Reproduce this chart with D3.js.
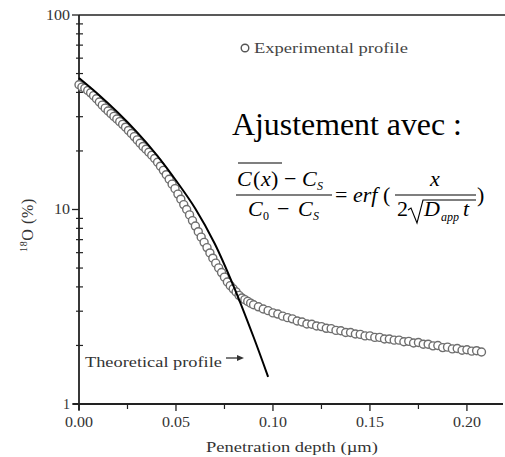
<!DOCTYPE html>
<html><head><meta charset="utf-8">
<script src="https://cdn.jsdelivr.net/npm/d3@7/dist/d3.min.js"></script>
<style>html,body{margin:0;padding:0;background:#fff;}svg{display:block;}</style>
</head><body>
<svg id="c" width="505" height="457"></svg>
<script>
// ---- data ----
const expDepth = [0.0000,0.0015,0.0030,0.0045,0.0060,0.0075,0.0090,0.0105,0.0120,0.0135,0.0150,0.0165,0.0180,0.0195,0.0210,0.0225,0.0240,0.0255,0.0270,0.0285,0.0300,0.0315,0.0330,0.0345,0.0360,0.0375,0.0390,0.0405,0.0420,0.0435,0.0450,0.0465,0.0480,0.0495,0.0510,0.0525,0.0540,0.0555,0.0570,0.0585,0.0600,0.0615,0.0630,0.0645,0.0660,0.0675,0.0690,0.0705,0.0720,0.0735,0.0750,0.0765,0.0780,0.0795,0.0810,0.0825,0.0840,0.0855,0.0870,0.0885,0.0900,
 0.0925,0.0950,0.0975,0.1000,0.1025,0.1050,0.1075,0.1100,0.1125,0.1150,0.1175,0.1200,0.1225,0.1250,0.1275,0.1300,0.1325,0.1350,0.1375,0.1400,0.1425,0.1450,0.1475,0.1500,0.1525,0.1550,0.1575,0.1600,0.1625,0.1650,0.1675,0.1700,0.1725,0.1750,0.1775,0.1800,0.1825,0.1850,0.1875,0.1900,0.1925,0.1950,0.1975,0.2000,0.2025,0.2050,0.2075];
const expO18 = [43.8,42.6,42.0,40.9,39.8,38.5,37.1,35.7,34.4,33.2,32.1,31.1,30.1,29.2,28.3,27.4,26.5,25.5,24.6,23.7,22.8,21.9,21.1,20.4,19.7,19.0,18.3,17.5,16.7,15.9,15.1,14.3,13.5,12.8,12.0,11.3,10.6,10.0,9.38,8.77,8.22,7.69,7.21,6.78,6.37,5.98,5.62,5.30,5.01,4.74,4.49,4.24,4.06,3.91,3.77,3.62,3.51,3.44,3.37,3.30,3.24,
 3.16,3.08,3.02,2.94,2.90,2.83,2.78,2.74,2.67,2.64,2.58,2.57,2.52,2.50,2.45,2.44,2.39,2.38,2.33,2.33,2.29,2.28,2.24,2.24,2.20,2.20,2.16,2.16,2.13,2.13,2.09,2.10,2.06,2.07,2.03,2.03,1.99,2.00,1.95,1.96,1.92,1.93,1.89,1.90,1.87,1.88,1.85];
const theoDepth = [0.000,0.010,0.020,0.030,0.040,0.050,0.060,0.070,0.080,0.090,0.0975];
const theoO18   = [47.4,39.0,31.5,24.9,19.1,14.1,10.1,6.67,3.97,2.21,1.38];
const xTicks = [0.00,0.05,0.10,0.15,0.20];
const xTickLabels = ["0.00","0.05","0.10","0.15","0.20"];
const xMinor = [0.025,0.075,0.125,0.175];
const yTicks = [1,10,100];
const yTickLabels = ["1","10","100"];
const yMinor = [2,3,4,5,6,7,8,9,20,30,40,50,60,70,80,90];

const svg = d3.select("#c");
const x = d3.scaleLinear().domain([0,0.2186]).range([79,503]);
const y = d3.scaleLog().domain([1,100]).range([404,15]);
const serif = "'Liberation Serif','Times New Roman',serif";
const axCol = "#222", txtCol = "#333";

// horizontally stretched text (the scanned plot lettering is wide)
function wide(parent, tx, ty, txt, size, targetW, anchor, fill){
  const g = parent.append("g");
  const t = g.append("text").attr("font-family",serif).attr("font-size",size).attr("fill",fill||txtCol).text(txt);
  const w = t.node().getComputedTextLength();
  const sx = targetW / w;
  let x0 = tx;
  if(anchor==="middle") x0 = tx - targetW/2;
  if(anchor==="end") x0 = tx - targetW;
  g.attr("transform",`translate(${x0},${ty}) scale(${sx},1)`);
  return t;
}

// frame / axes lines
svg.append("line").attr("x1",x(0)).attr("x2",505).attr("y1",y(100)).attr("y2",y(100)).attr("stroke",axCol).attr("stroke-width",1.6);
svg.append("line").attr("x1",x(0)).attr("x2",x(0)).attr("y1",y(100)).attr("y2",y(1)+6).attr("stroke",axCol).attr("stroke-width",1.8);
svg.append("line").attr("x1",x(0)-6).attr("x2",x(0.2186)).attr("y1",y(1)).attr("y2",y(1)).attr("stroke",axCol).attr("stroke-width",1.8);

// x ticks
svg.selectAll(".xt").data(xTicks).enter().append("line")
  .attr("x1",d=>x(d)).attr("x2",d=>x(d)).attr("y1",y(1)).attr("y2",y(1)+7).attr("stroke",axCol).attr("stroke-width",1.3);
svg.selectAll(".xm").data(xMinor).enter().append("line")
  .attr("x1",d=>x(d)).attr("x2",d=>x(d)).attr("y1",y(1)).attr("y2",y(1)+5).attr("stroke",axCol).attr("stroke-width",1.2);
xTicks.forEach((d,i)=>wide(svg, x(d), 427, xTickLabels[i], 14, 28, "middle"));

// y ticks
svg.selectAll(".yt").data(yTicks).enter().append("line")
  .attr("x1",x(0)-7).attr("x2",x(0)).attr("y1",d=>y(d)).attr("y2",d=>y(d)).attr("stroke",axCol).attr("stroke-width",1.3);
svg.selectAll(".ym").data(yMinor).enter().append("line")
  .attr("x1",x(0)-3).attr("x2",x(0)+4).attr("y1",d=>y(d)).attr("y2",d=>y(d)).attr("stroke",axCol).attr("stroke-width",1.2);
const yW = {"1":7,"10":16,"100":24};
yTicks.forEach((d,i)=>wide(svg, 70, y(d)+4.5, yTickLabels[i], 14, yW[yTickLabels[i]], "end"));

// axis titles
wide(svg, 292, 452, "Penetration depth (\u00b5m)", 14, 172, "middle");
const yl = svg.append("text").attr("transform","translate(33,225) rotate(-90)").attr("text-anchor","middle")
  .attr("font-family",serif).attr("font-size",16).attr("fill",txtCol).attr("letter-spacing",0.6);
yl.append("tspan").attr("font-size",10).attr("dy",-6).text("18");
yl.append("tspan").attr("dy",6).text("O (%)");

// experimental circles
svg.append("g").selectAll("circle").data(expDepth).enter().append("circle")
  .attr("cx",d=>x(d)).attr("cy",(d,i)=>y(expO18[i])).attr("r",4)
  .attr("fill","#fff").attr("stroke","#6e6e6e").attr("stroke-width",1.4);

// theoretical line
const line = d3.line().x(d=>x(d)).y((d,i)=>y(theoO18[i])).curve(d3.curveCatmullRom.alpha(0.5));
svg.append("path").datum(theoDepth).attr("d",line).attr("fill","none").attr("stroke","#000").attr("stroke-width",2);

// legend experimental
svg.append("circle").attr("cx",245).attr("cy",48).attr("r",3.8).attr("fill","#fff").attr("stroke","#555").attr("stroke-width",1.4);
wide(svg, 254, 52.5, "Experimental profile", 14, 154, "start", "#444");

// theoretical label + arrow
wide(svg, 85, 367, "Theoretical profile", 15, 137, "start");
svg.append("line").attr("x1",226).attr("x2",238).attr("y1",358).attr("y2",358).attr("stroke",txtCol).attr("stroke-width",1.3);
svg.append("path").attr("d","M244,358 L237,355 L237,361 Z").attr("fill",txtCol);

// Ajustement text
wide(svg, 232, 135, "Ajustement avec :", 31, 230, "start", "#000");

// formula
const F = (xx,yy,txt,opt={})=>svg.append("text").attr("x",xx).attr("y",yy).attr("font-family",serif)
  .attr("font-size",opt.size||22).attr("font-style",opt.italic?"italic":"normal").attr("fill","#000").text(txt);
// numerator
F(237,186,"C",{italic:true}); F(253,186,"("); F(261,186,"x",{italic:true}); F(271,186,")");
F(284,186,"\u2212"); F(302,186,"C",{italic:true}); F(317,190,"S",{italic:true,size:12});
svg.append("line").attr("x1",238).attr("x2",282).attr("y1",163).attr("y2",163).attr("stroke","#000").attr("stroke-width",1.1);
svg.append("line").attr("x1",236).attr("x2",332).attr("y1",195).attr("y2",195).attr("stroke","#000").attr("stroke-width",1.1);
// denominator
F(248,216,"C",{italic:true}); F(263,220,"0",{size:12}); F(277,216,"\u2212"); F(298,216,"C",{italic:true}); F(313,220,"S",{italic:true,size:12});
// = erf (
F(335,202,"="); F(353,202,"erf",{italic:true}); F(383,202,"(");
// second fraction
F(430,186,"x",{italic:true});
svg.append("line").attr("x1",395).attr("x2",476).attr("y1",195).attr("y2",195).attr("stroke","#000").attr("stroke-width",1.1);
F(397,216,"2");
svg.append("path").attr("d","M408,210 L411,208 L417,223 L423,200 L476,200").attr("fill","none").attr("stroke","#000").attr("stroke-width",1.1);
F(424,216,"D",{italic:true}); F(441,221,"app",{italic:true,size:12}); F(463,216,"t",{italic:true});
F(477,202,")");
</script>
</body></html>
